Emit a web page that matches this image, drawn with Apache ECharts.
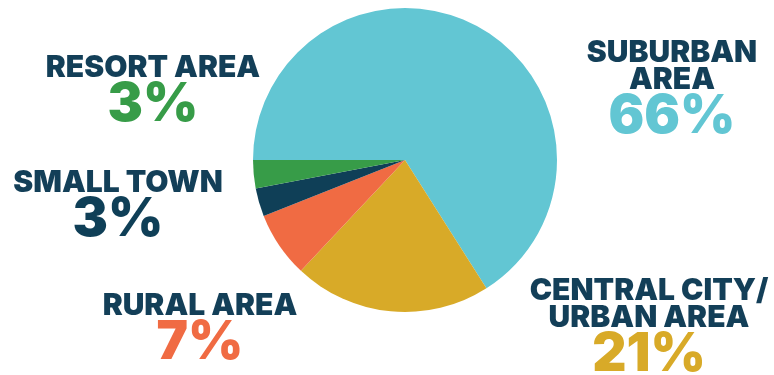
<!DOCTYPE html>
<html>
<head>
<meta charset="utf-8">
<script src="https://cdn.jsdelivr.net/npm/echarts@6/dist/echarts.min.js"></script>
<style>
  html, body { margin: 0; padding: 0; background: #ffffff; }
  #chart { width: 774px; height: 375px; }
</style>
</head>
<body>
<div id="chart"></div>
<script>
// Community type shares (percent), drawn clockwise from 9 o'clock
const categories = ['SUBURBAN\nAREA', 'CENTRAL CITY/\nURBAN AREA', 'RURAL AREA', 'SMALL TOWN', 'RESORT AREA'];
const shares = [66, 21, 7, 3, 3];

// Slice colours
const sliceColors = ['#62c6d3', '#d8aa28', '#f06b43', '#0f3f57', '#379c48'];
const nameColor = '#133f58';
const fontFamily = 'Inter, "Open Sans", sans-serif';

// Label anchor points (center x, top y) for each slice's callout
const labelAnchors = [
  [672, 39],
  [649, 277],
  [200, 292],
  [118, 169],
  [153, 54]
];

function richFor(color) {
  return {
    n: { fontFamily, fontWeight: 900, fontSize: 30, lineHeight: 27, color: nameColor, align: 'center' },
    p: { fontFamily, fontWeight: 900, fontSize: 53, lineHeight: 48, color: color, align: 'center' }
  };
}

const pieData = shares.map((v, i) => ({
  value: v,
  name: categories[i],
  itemStyle: { color: sliceColors[i] },
  label: { rich: richFor(sliceColors[i]) }
}));

const chart = echarts.init(document.getElementById('chart'), null, { renderer: 'canvas' });
chart.setOption({
  animation: false,
  series: [{
    type: 'pie',
    center: [405, 160],
    radius: 152,
    startAngle: 180,
    clockwise: true,
    avoidLabelOverlap: false,
    itemStyle: { borderWidth: 0 },
    emphasis: { disabled: true },
    label: {
      show: true,
      position: 'outside',
      formatter: (p) => p.name.split('\n').map(s => '{n|' + s + '}').join('\n') + '\n{p|' + p.value + '%}'
    },
    labelLine: { show: false },
    labelLayout: (params) => ({
      x: labelAnchors[params.dataIndex][0],
      y: labelAnchors[params.dataIndex][1],
      align: 'center',
      verticalAlign: 'top'
    }),
    data: pieData
  }]
});
</script>
</body>
</html>
